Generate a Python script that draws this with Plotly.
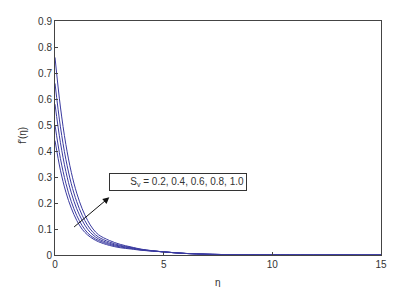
import plotly.graph_objects as go

eta = [0, 0.25, 0.5, 0.75, 1.0, 1.25, 1.5, 1.75, 2.0, 2.5, 3.0, 3.5, 4.0, 5.0, 6.0, 7.0, 8.0, 10.0, 15.0]
tail = [0.012, 0.006, 0.003, 0.0015, 0.0004, 0.0]
curves = {
    "Sv=0.2": [0.76, 0.569, 0.425, 0.318, 0.238, 0.178, 0.133, 0.100, 0.078, 0.056, 0.041, 0.031, 0.022] + tail,
    "Sv=0.4": [0.66, 0.493, 0.368, 0.274, 0.205, 0.153, 0.114, 0.087, 0.069, 0.050, 0.037, 0.029, 0.021] + tail,
    "Sv=0.6": [0.58, 0.432, 0.321, 0.239, 0.178, 0.133, 0.099, 0.077, 0.062, 0.045, 0.034, 0.027, 0.020] + tail,
    "Sv=0.8": [0.50, 0.371, 0.276, 0.205, 0.152, 0.113, 0.085, 0.068, 0.056, 0.041, 0.031, 0.025, 0.019] + tail,
    "Sv=1.0": [0.44, 0.326, 0.242, 0.180, 0.133, 0.099, 0.077, 0.062, 0.051, 0.037, 0.028, 0.023, 0.018] + tail,
}
x_ticks = [0, 5, 10, 15]
y_ticks = [0, 0.1, 0.2, 0.3, 0.4, 0.5, 0.6, 0.7, 0.8, 0.9]
label_text = "S<sub>v</sub> = 0.2, 0.4, 0.6, 0.8, 1.0"

fig = go.Figure()
for name, vals in curves.items():
    fig.add_trace(go.Scatter(x=eta, y=vals, mode="lines", name=name,
                             line=dict(color="#3a3aa0", width=1, shape="spline", smoothing=1)))

font = dict(family="Liberation Sans, Arial, sans-serif", size=10, color="#333")
axis_common = dict(showgrid=False, zeroline=False, showline=True, linecolor="#444", linewidth=1,
                   mirror=True, ticks="inside", ticklen=3, tickcolor="#444", tickfont=font)
fig.update_xaxes(range=[0, 15], tickvals=x_ticks, ticktext=[str(v) for v in x_ticks], **axis_common)
fig.update_yaxes(range=[0, 0.9], tickvals=y_ticks, ticktext=["0"] + [f"{v:.1f}" for v in y_ticks[1:]], **axis_common)

# arrow
fig.add_annotation(x=2.5, y=0.222, ax=0.81, ay=0.103, axref="x", ayref="y", xref="x", yref="y",
                   text="", showarrow=True, arrowhead=2, arrowsize=1.3, arrowwidth=1, arrowcolor="#111")
# label box
fig.add_annotation(x=2.49, y=0.279, xref="x", yref="y", xanchor="left", yanchor="middle",
                   text=label_text, showarrow=False, font=font, bordercolor="#333", borderwidth=1,
                   borderpad=2, bgcolor="white", width=132, align="right")
# axis titles
fig.add_annotation(x=0.5, y=-0.085, xref="paper", yref="paper", yanchor="top", text="η",
                   showarrow=False, font=font)
fig.add_annotation(x=-0.075, y=0.51, xref="paper", yref="paper", xanchor="right", text="f'(η)",
                   textangle=-90, showarrow=False, font=font)

fig.update_layout(width=420, height=287, margin=dict(l=55, r=39, t=21, b=32),
                  paper_bgcolor="white", plot_bgcolor="white", showlegend=False, font=font)
fig.write_html("out.html")
